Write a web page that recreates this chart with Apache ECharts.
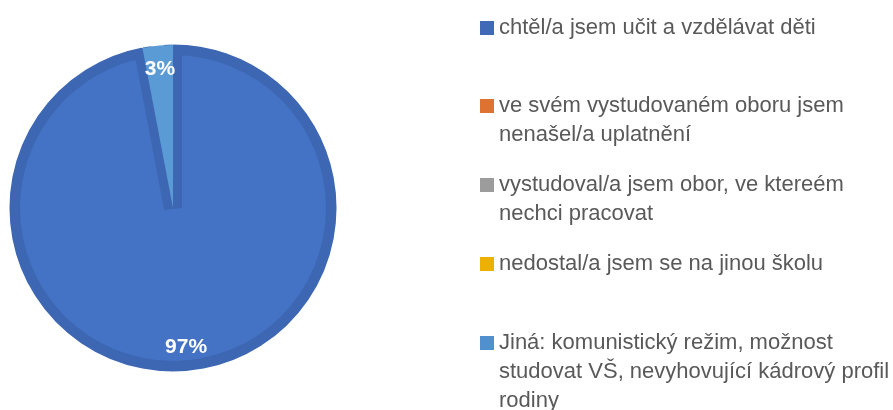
<!DOCTYPE html>
<html>
<head>
<meta charset="utf-8">
<script src="https://cdn.jsdelivr.net/npm/echarts@6/dist/echarts.min.js"></script>
<style>
html,body{margin:0;padding:0;background:#fff;}
#chart{width:893px;height:410px;}
</style>
</head>
<body>
<div id="chart"></div>
<script>
// ---- data ----
const categoryLines = [
  ['chtěl/a jsem učit a vzdělávat děti'],
  ['ve svém vystudovaném oboru jsem', 'nenašel/a uplatnění'],
  ['vystudoval/a jsem obor, ve ktereém', 'nechci pracovat'],
  ['nedostal/a jsem se na jinou školu'],
  ['Jiná: komunistický režim, možnost', 'studovat VŠ, nevyhovující kádrový profil', 'rodiny']
];
const categories = categoryLines.map(l => l.join(' '));
const values = [97, 0, 0, 0, 3];
const colors = ['#4472C4', '#ED7D31', '#A5A5A5', '#FFC000', '#5B9BD5'];
const legendSwatches = ['#4069B7', '#DE7230', '#9C9C9C', '#EDB000', '#5190CE'];

// ---- chart ----
const ringColor = '#3D67B2';
const center = [173, 208];
const R = 163;
const clear = 'rgba(0,0,0,0)';
const chart = echarts.init(document.getElementById('chart'), null, {renderer: 'canvas'});

function layer(styleFn) {
  return values.map((v, i) => ({name: categories[i], value: v, itemStyle: styleFn(v, i)}));
}
const baseData = layer((v, i) => ({color: i === 0 ? ringColor : colors[i]}));
const innerData = layer((v, i) => ({color: i === 0 ? colors[0] : clear}));
const stripeData = layer((v, i) => i === 0
  ? {color: clear, borderColor: ringColor, borderWidth: 18, borderJoin: 'miter'}
  : {color: clear, borderWidth: 0});
const topData = layer((v, i) => ({color: (i > 0 && v > 0) ? colors[i] : clear, borderWidth: 0}));
const coverData = layer(() => ({color: '#ffffff', borderColor: '#ffffff', borderWidth: 2}));
const labelData = values.map((v, i) => ({name: categories[i], value: v}));

const slotTops = [17, 95, 174, 253, 332];
const rich = {
  g: {width: 5, height: 14},
  ind: {width: 19, height: 14},
  t: {fontFamily: 'Liberation Sans', fontSize: 22, color: '#595959', lineHeight: 29}
};
legendSwatches.forEach((c, i) => {
  rich['s' + i] = {width: 14, height: 14, backgroundColor: c};
});

const legends = categories.map((name, i) => ({
  orient: 'vertical',
  left: 475,
  top: slotTops[i],
  padding: 0,
  itemWidth: 0,
  itemHeight: 14,
  icon: 'none',
  data: [name],
  formatter: function () {
    return categoryLines[i].map((line, k) =>
      (k === 0 ? '{s' + i + '|}{g|}' : '{ind|}') + '{t|' + line + '}'
    ).join('\n');
  },
  textStyle: {rich: rich}
}));

const pieCommon = {
  type: 'pie', center: center, startAngle: 90, silent: true,
  label: {show: false}, labelLine: {show: false}
};

chart.setOption({
  animation: false,
  color: colors,
  legend: legends,
  series: [
    Object.assign({}, pieCommon, {radius: R, data: baseData}),
    Object.assign({}, pieCommon, {radius: R - 10, data: innerData}),
    Object.assign({}, pieCommon, {radius: R, data: stripeData}),
    Object.assign({}, pieCommon, {radius: R, data: topData}),
    Object.assign({}, pieCommon, {radius: [R + 1.5, R + 16], data: coverData}),
    {
      type: 'pie', center: center, radius: [110, R], startAngle: 90,
      silent: true, avoidLabelOverlap: false,
      itemStyle: {color: clear},
      labelLine: {show: false},
      label: {
        show: true, position: 'inside',
        formatter: p => (p.value > 0 ? Math.round(p.percent) + '%' : ''),
        color: '#ffffff', fontWeight: 'bold', fontSize: 21,
        fontFamily: 'Liberation Sans'
      },
      data: labelData
    }
  ]
});
</script>
</body>
</html>
